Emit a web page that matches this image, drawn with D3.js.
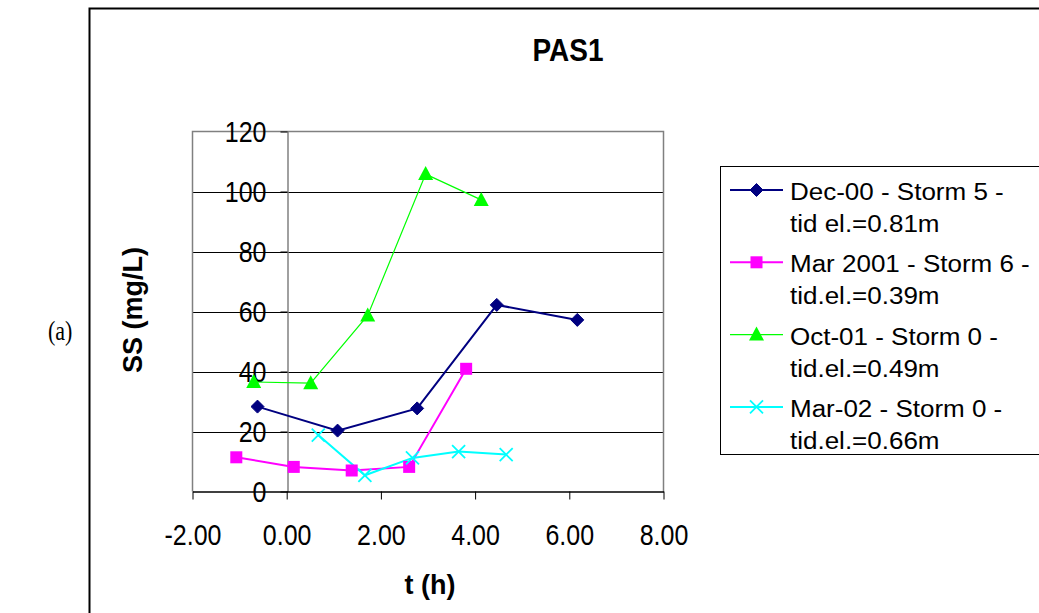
<!DOCTYPE html>
<html>
<head>
<meta charset="utf-8">
<script src="https://cdn.jsdelivr.net/npm/d3@7"></script>
<style>
  html, body { margin: 0; padding: 0; background: #fff; }
  svg { display: block; }
  text { font-family: "Liberation Sans", Arial, sans-serif; fill: #000; }
</style>
</head>
<body>
<div id="chart"></div>
<script>
// ---------- DATA ----------
const title = "PAS1";
const xTitle = "t (h)";
const yTitle = "SS (mg/L)";
const panelLabel = "(a)";

const xTicks = [-2, 0, 2, 4, 6, 8];
const xTickLabels = ["-2.00", "0.00", "2.00", "4.00", "6.00", "8.00"];
const yTicks = [0, 20, 40, 60, 80, 100, 120];
const yTickLabels = ["0", "20", "40", "60", "80", "100", "120"];

const seriesNames = [
  ["Dec-00 - Storm 5 -", "tid el.=0.81m"],
  ["Mar 2001 - Storm 6 -", "tid.el.=0.39m"],
  ["Oct-01 - Storm 0 -", "tid.el.=0.49m"],
  ["Mar-02 - Storm 0 -", "tid.el.=0.66m"]
];

const dec00T = [-0.62, 1.08, 2.77, 4.46, 6.17];
const dec00V = [28.3, 20.3, 27.7, 62.2, 57.2];

const mar01T = [-1.07, 0.15, 1.38, 2.60, 3.81];
const mar01V = [11.4, 8.2, 7.0, 8.2, 40.9];

const oct01T = [-0.70, 0.51, 1.72, 2.95, 4.13];
const oct01V = [36.5, 36.1, 58.7, 105.8, 97.2];

const mar02T = [0.67, 1.66, 2.67, 3.65, 4.66];
const mar02V = [18.8, 5.4, 11.2, 13.3, 12.3];

// ---------- LAYOUT ----------
const W = 1039, H = 613;
const plot = { left: 192.5, right: 663.5, top: 131.5, bottom: 491.5 };
const STRETCH = 1.15;

const svg = d3.select("#chart").append("svg")
  .attr("width", W).attr("height", H);

// outer chart border (extends beyond the visible area)
svg.append("rect")
  .attr("x", 89.5).attr("y", 8.5)
  .attr("width", 1100).attr("height", 700)
  .attr("fill", "none").attr("stroke", "#000").attr("stroke-width", 2);

const x = d3.scaleLinear().domain([-2, 8]).range([plot.left, plot.right]);
const y = d3.scaleLinear().domain([0, 120]).range([plot.bottom, plot.top]);

// gridlines
svg.append("g").selectAll("line")
  .data(yTicks.filter(v => v > 0 && v < 120))
  .join("line")
  .attr("x1", plot.left).attr("x2", plot.right)
  .attr("y1", d => Math.round(y(d)) + 0.5).attr("y2", d => Math.round(y(d)) + 0.5)
  .attr("stroke", "#000").attr("stroke-width", 1);

// plot area border (gray)
svg.append("path")
  .attr("d", `M${plot.left},${plot.bottom}V${plot.top}H${plot.right}V${plot.bottom}`)
  .attr("fill", "none").attr("stroke", "#808080").attr("stroke-width", 1.5);

// y axis at x = 0
const yAxis = d3.axisLeft(y)
  .tickValues(yTicks)
  .tickFormat((d, i) => yTickLabels[i])
  .tickSize(7).tickSizeOuter(0).tickPadding(14);
const gy = svg.append("g")
  .attr("transform", `translate(${Math.round(x(0)) + 0.5},0)`)
  .call(yAxis);
gy.select(".domain").attr("stroke", "#808080").attr("stroke-width", 1.5);
gy.selectAll(".tick line").attr("stroke", "#000");
gy.selectAll(".tick text")
  .attr("font-size", 25).attr("font-family", "Liberation Sans, Arial, sans-serif")
  .attr("fill", "#000").attr("dy", "0.36em")
  .attr("transform", `scale(1,${STRETCH})`);

// x axis at y = 0
const xAxis = d3.axisBottom(x)
  .tickValues(xTicks)
  .tickFormat((d, i) => xTickLabels[i])
  .tickSize(8).tickSizeOuter(0).tickPadding(24);
const gx = svg.append("g")
  .attr("transform", `translate(0,${plot.bottom})`)
  .call(xAxis);
gx.select(".domain").attr("stroke", "#000").attr("stroke-width", 1.5);
gx.selectAll(".tick line").attr("stroke", "#000");
gx.selectAll(".tick text")
  .attr("font-size", 25).attr("font-family", "Liberation Sans, Arial, sans-serif")
  .attr("fill", "#000")
  .attr("y", 46.5).attr("dy", 0)
  .attr("transform", `scale(1,${STRETCH})`);

// titles
svg.append("text")
  .attr("transform", "translate(568,61) scale(1,1.1)")
  .attr("text-anchor", "middle").attr("font-size", 28).attr("font-weight", "bold")
  .text(title);
svg.append("text").attr("x", 430).attr("y", 594)
  .attr("text-anchor", "middle").attr("font-size", 27).attr("font-weight", "bold")
  .text(xTitle);
svg.append("text")
  .attr("transform", "translate(141.5,310) rotate(-90)")
  .attr("text-anchor", "middle").attr("font-size", 27).attr("font-weight", "bold")
  .text(yTitle);
svg.append("text")
  .attr("transform", "translate(48,339.5) scale(1,1.25)")
  .attr("font-size", 22).style("font-family", "'Liberation Serif', 'Times New Roman', serif")
  .text(panelLabel);

// ---------- SERIES ----------
const series = [
  { t: dec00T, v: dec00V, color: "#000080", width: 2, marker: "diamond" },
  { t: mar01T, v: mar01V, color: "#FF00FF", width: 2, marker: "square" },
  { t: oct01T, v: oct01V, color: "#00FF00", width: 1.2, marker: "triangle" },
  { t: mar02T, v: mar02V, color: "#00FFFF", width: 2, marker: "x" }
];

function drawMarker(g, type, cx, cy, color) {
  if (type === "diamond") {
    g.append("path").attr("d", `M${cx},${cy-6.5}L${cx+6.5},${cy}L${cx},${cy+6.5}L${cx-6.5},${cy}Z`)
      .attr("fill", color).attr("stroke", color);
  } else if (type === "square") {
    g.append("rect").attr("x", cx - 6).attr("y", cy - 6).attr("width", 12).attr("height", 12)
      .attr("fill", color);
  } else if (type === "triangle") {
    g.append("path").attr("d", `M${cx},${cy-8}L${cx+7.5},${cy+6}L${cx-7.5},${cy+6}Z`)
      .attr("fill", color);
  } else if (type === "x") {
    g.append("path").attr("d", `M${cx-6.5},${cy-6.5}L${cx+6.5},${cy+6.5}M${cx+6.5},${cy-6.5}L${cx-6.5},${cy+6.5}`)
      .attr("stroke", color).attr("stroke-width", 1.8).attr("fill", "none");
  }
}

const line = d3.line().x(d => x(d[0])).y(d => y(d[1]));
series.forEach(s => {
  const pts = s.t.map((t, i) => [t, s.v[i]]);
  svg.append("path").datum(pts)
    .attr("d", line).attr("fill", "none")
    .attr("stroke", s.color).attr("stroke-width", s.width);
});
series.forEach(s => {
  const g = svg.append("g");
  s.t.forEach((t, i) => drawMarker(g, s.marker, x(t), y(s.v[i]), s.color));
});

// ---------- LEGEND ----------
svg.append("rect")
  .attr("x", 720.5).attr("y", 166.5).attr("width", 400).attr("height", 288)
  .attr("fill", "none").attr("stroke", "#000").attr("stroke-width", 1);

series.forEach((s, i) => {
  const cy = 190 + i * 72.3;
  const g = svg.append("g");
  g.append("line").attr("x1", 730).attr("x2", 783).attr("y1", cy).attr("y2", cy)
    .attr("stroke", s.color).attr("stroke-width", s.width);
  drawMarker(g, s.marker, 756.5, cy, s.color);
  g.append("text").attr("transform", `translate(790,${cy + 10}) scale(1,0.92)`)
    .attr("font-size", 26)
    .text(seriesNames[i][0]);
  g.append("text").attr("transform", `translate(790,${cy + 42}) scale(1,0.92)`)
    .attr("font-size", 26)
    .text(seriesNames[i][1]);
});
</script>
</body>
</html>
